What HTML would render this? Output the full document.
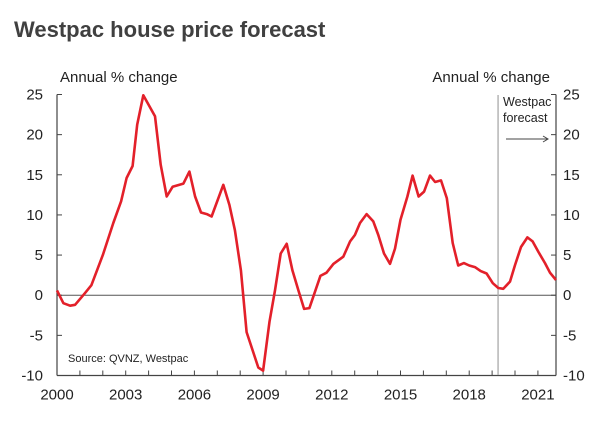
<!DOCTYPE html>
<html><head><meta charset="utf-8"><style>
body{margin:0;background:#fff;font-family:"Liberation Sans",Arial,sans-serif;}
svg text{font-family:"Liberation Sans",Arial,sans-serif;}
</style></head><body>
<svg id="chart" width="613" height="428" viewBox="0 0 613 428" xmlns="http://www.w3.org/2000/svg">
<text x="14" y="37" font-size="22" font-weight="bold" fill="#404040">Westpac house price forecast</text>
<text x="60" y="82" font-size="15" fill="#222">Annual % change</text>
<text x="550" y="82" font-size="15" fill="#222" text-anchor="end">Annual % change</text>
<g id="axes"></g>
<line id="fline" y1="95" y2="375" stroke="#aaa" stroke-width="1.3"/>
<text x="503" y="106" font-size="12.5" fill="#222">Westpac</text>
<text x="503" y="122" font-size="12.5" fill="#222">forecast</text>
<g stroke="#444" fill="none" stroke-width="1"><line x1="506" y1="139" x2="548" y2="139"/><polyline points="543,136 548,139 543,142"/></g>
<text x="68" y="362" font-size="11" fill="#222">Source: QVNZ, Westpac</text>
<g id="series"></g>
</svg>
<script>
const years = [2000,2000.28,2000.57,2000.79,2001.22,2001.5,2002.0,2002.46,2002.8,2003.04,2003.3,2003.5,2003.77,2004.28,2004.53,2004.79,2005.05,2005.52,2005.78,2006.03,2006.29,2006.54,2006.75,2007.26,2007.53,2007.77,2008.03,2008.28,2008.79,2009.0,2009.28,2009.52,2009.77,2010.03,2010.28,2010.54,2010.79,2011.02,2011.5,2011.77,2012.07,2012.5,2012.8,2013.01,2013.23,2013.52,2013.81,2014.03,2014.28,2014.54,2014.76,2015.0,2015.3,2015.53,2015.79,2016.03,2016.29,2016.51,2016.77,2017.02,2017.28,2017.52,2017.77,2018.0,2018.25,2018.5,2018.76,2019.03,2019.27,2019.49,2019.78,2020.0,2020.26,2020.54,2020.77,2021.02,2021.31,2021.53,2021.79];
const annualChange = [0.6,-1.0,-1.3,-1.2,0.25,1.25,5.0,9.0,11.7,14.6,16.1,21.25,24.9,22.3,16.25,12.3,13.5,13.9,15.4,12.3,10.3,10.1,9.8,13.75,11.25,8.1,3.1,-4.6,-9.0,-9.4,-3.3,0.6,5.2,6.4,3.1,0.6,-1.7,-1.6,2.4,2.8,3.9,4.8,6.7,7.5,9.0,10.1,9.2,7.5,5.2,3.9,5.8,9.4,12.3,14.9,12.3,12.9,14.9,14.1,14.3,12.1,6.5,3.7,4.0,3.7,3.5,3.0,2.7,1.5,0.9,0.8,1.7,3.75,6.0,7.2,6.7,5.4,4.0,2.8,1.9];
const yTicks = [25,20,15,10,5,0,-5,-10];
const xLabels = [2000,2003,2006,2009,2012,2015,2018,2021];
const forecastStart = 2019.26;

const X0=57, X1=556, T0=2000, T1=2021.79, YT=94.5, YB=375.5, VMAX=25, VMIN=-10;
const xs = t => X0 + (t-T0)*(X1-X0)/(T1-T0);
const ys = v => YT + (VMAX-v)*(YB-YT)/(VMAX-VMIN);
const NS="http://www.w3.org/2000/svg";
function mk(tag, attrs, parent){const e=document.createElementNS(NS,tag);for(const k in attrs)e.setAttribute(k,attrs[k]);parent.appendChild(e);return e;}
const ax=document.getElementById('axes');
let e;
e=mk('line',{x1:X0,x2:X0,y1:YT,y2:YB,stroke:'#444','stroke-width':1.2},ax);


e=mk('line',{x1:X1,x2:X1,y1:YT,y2:YB,stroke:'#444','stroke-width':1.2},ax);


e=mk('line',{x1:X0,x2:X1,y1:YB,y2:YB,stroke:'#444','stroke-width':1.2},ax);


e=mk('line',{x1:X0,x2:X1,y1:ys(0),y2:ys(0),stroke:'#555','stroke-width':1},ax);


yTicks.forEach(v=>{
  const y=ys(v);
  mk('line',{x1:X0,x2:X0+5,y1:y,y2:y,stroke:'#444'},ax);
  mk('line',{x1:X1-5,x2:X1,y1:y,y2:y,stroke:'#444'},ax);
  e=mk('text',{x:X0-14,y:y+5,'font-size':15,fill:'#222','text-anchor':'end'},ax);
  e.textContent=v;
  
  
  e=mk('text',{x:X1+7,y:y+5,'font-size':15,fill:'#222'},ax);
  e.textContent=v;
  
  
});
for(let yr=2001; yr<=2021; yr++){const x=xs(yr);mk('line',{x1:x,x2:x,y1:YB-5,y2:YB,stroke:'#444'},ax);}
xLabels.forEach(yr=>{
  e=mk('text',{x:xs(yr),y:YB+24,'font-size':15,fill:'#222','text-anchor':'middle'},ax);
  e.textContent=yr;
  
  
});
const fl=document.getElementById('fline');
fl.setAttribute('x1',xs(forecastStart));fl.setAttribute('x2',xs(forecastStart));
const pts=years.map((t,i)=>xs(t).toFixed(1)+','+ys(annualChange[i]).toFixed(1)).join(' ');
e=mk('polyline',{points:pts,fill:'none',stroke:'#e3202a','stroke-width':2.6,'stroke-linejoin':'round'},document.getElementById('series'));


</script>
</body></html>
